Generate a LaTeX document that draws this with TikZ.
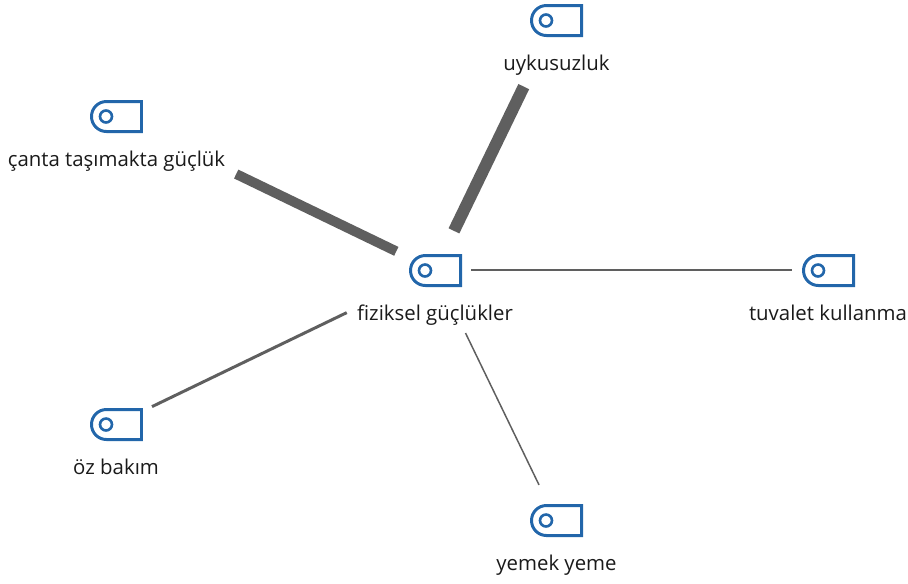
\documentclass[tikz,border=0pt]{standalone}
\usepackage{fontspec}
\setmainfont{Open Sans}
\definecolor{tagblue}{HTML}{2266AA}
\definecolor{linkgray}{HTML}{5F5F5F}
\definecolor{labelgray}{HTML}{1A1A1A}
\tikzset{
    tagnode/.style={minimum width=29pt, minimum height=18pt, inner sep=0pt},
    tagtext/.style={text=labelgray, font=\fontsize{11.6pt}{13pt}\selectfont, inner sep=0pt, anchor=base},
    link/.style={draw=linkgray, line cap=butt},
    tagicon/.pic={
        \draw[tagblue, line width=1.7pt] (25.5,-14.5) -- (25.5,15.5) [rounded corners=8.5pt] -- (-24.5,15.5) -- (-24.5,-14.5) [sharp corners] -- cycle;
        \draw[tagblue, line width=1.5pt] (-10,0.5) circle (3.4pt);
    }
}
\begin{document}
\begin{tikzpicture}[x=0.02cm, y=-0.02cm]
            \useasboundingbox (0,0) rectangle (908,583);
            \node[tagnode] (hub) at (435,270) {};
            \node[tagnode] (uyku) at (556,20) {};
            \node[tagnode] (canta) at (116,116) {};
            \node[tagnode] (tuvalet) at (828,270) {};
            \node[tagnode] (ozbakim) at (116,424) {};
            \node[tagnode] (yemek) at (556,520) {};
            \foreach \n in {hub,uyku,canta,tuvalet,ozbakim,yemek}
                \pic at (\n) {tagicon};
            \node[tagtext] (hubtext) at (435,320) {fiziksel güçlükler};
            \node[tagtext] (uykutext) at (556.5,70) {uykusuzluk};
            \node[tagtext] (cantatext) at (116.5,166) {çanta taşımakta güçlük};
            \node[tagtext] (tuvalettext) at (828,320) {tuvalet kullanma};
            \node[tagtext] (ozbakimtext) at (116,474) {öz bakım};
            \node[tagtext] (yemektext) at (556.5,570) {yemek yeme};
            \draw[link, line width=6.8pt, shorten <=0.87cm, shorten >=1.48cm] (hub.center) -- (uyku.center);
            \draw[link, line width=5.6pt, shorten <=0.86cm, shorten >=2.67cm] (hub.center) -- (canta.center);
            \draw[link, line width=1.1pt, shorten <=0.72cm, shorten >=0.72cm] (hub.center) -- (tuvalet.center);
            \draw[link, line width=1.7pt, shorten <=1.96cm, shorten >=0.80cm] (hub.center) -- (ozbakim.center);
            \draw[link, line width=0.85pt, shorten <=1.40cm, shorten >=0.78cm] (hub.center) -- (yemek.center);
        \end{tikzpicture}
\end{document}
